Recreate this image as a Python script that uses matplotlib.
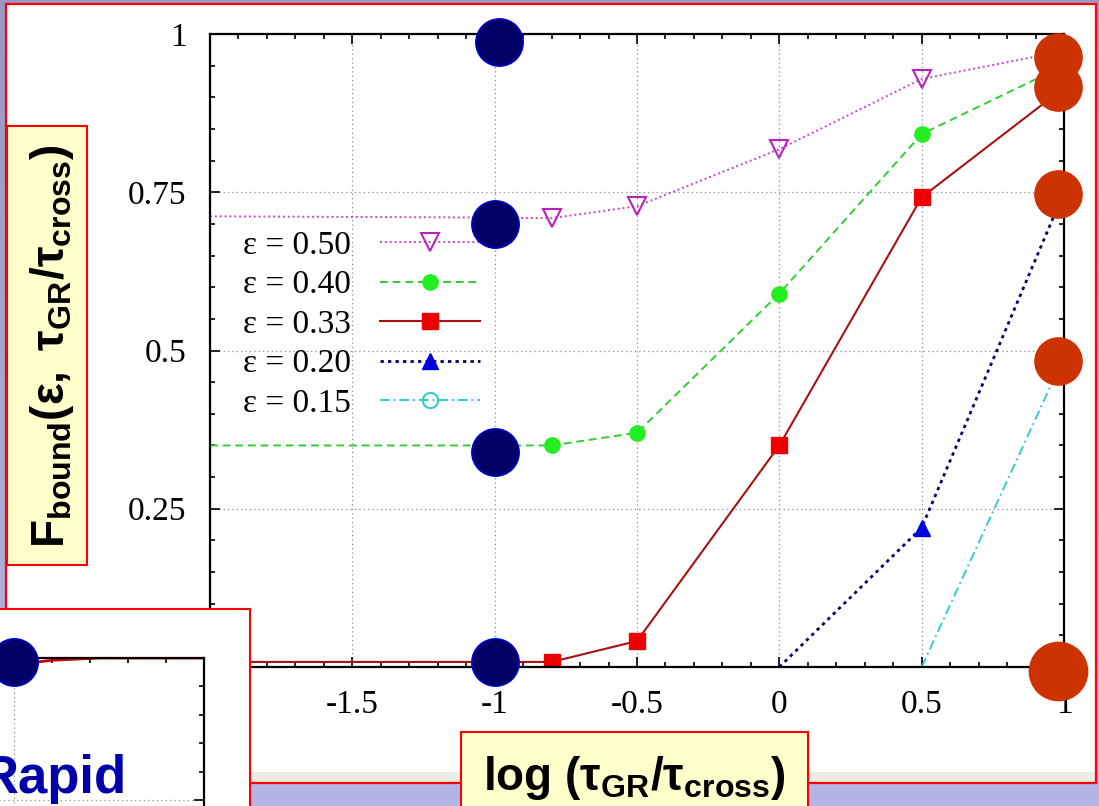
import numpy as np
import matplotlib
matplotlib.use("Agg")
import matplotlib.pyplot as plt
from matplotlib.patches import Rectangle
from matplotlib.ticker import MultipleLocator

# ---------------------------------------------------------------- data
log_ratio_50 = [-2.0, -1.0, -0.8, -0.5, 0.0, 0.5, 1.0]
f_bound_50 = [0.712, 0.710, 0.709, 0.728, 0.818, 0.929, 0.973]

log_ratio_40 = [-2.0, -1.0, -0.8, -0.5, 0.0, 0.5, 1.0]
f_bound_40 = [0.350, 0.350, 0.350, 0.370, 0.590, 0.842, 0.950]

log_ratio_33 = [-2.0, -1.0, -0.8, -0.5, 0.0, 0.5, 1.0]
f_bound_33 = [0.008, 0.008, 0.008, 0.041, 0.350, 0.742, 0.915]

log_ratio_20 = [0.0, 0.5, 1.0]
f_bound_20 = [0.0, 0.220, 0.750]

log_ratio_15 = [0.5, 1.0]
f_bound_15 = [0.0, 0.490]

series_labels = ["ε = 0.50", "ε = 0.40", "ε = 0.33", "ε = 0.20", "ε = 0.15"]

# highlighted points on the slow (x = -1) and fast (x = 1) ends
slow_x = [-0.985, -1.0, -1.0, -1.0]
slow_y = [0.987, 0.700, 0.340, 0.008]
fast_x = [0.979, 0.979, 0.979, 0.979, 0.979]
fast_y = [0.964, 0.916, 0.748, 0.484, -0.006]
fast_size = [34, 34, 34, 34, 42]

# small inset curve
inset_x = [-0.5, 0.0, 0.2, 0.45, 1.0]
inset_y = [0.975, 0.988, 0.996, 1.0, 1.0]
inset_dot_x = [0.0]
inset_dot_y = [0.993]

x_ticks = [-2, -1.5, -1, -0.5, 0, 0.5, 1]
x_tick_labels = ["-2", "-1.5", "-1", "-0.5", "0", "0.5", "1"]
y_ticks = [0.25, 0.5, 0.75, 1.0]
y_tick_labels = ["0.25", "0.5", "0.75", "1"]

# ---------------------------------------------------------------- figure
W, H = 1099, 806
plt.rcParams["axes.unicode_minus"] = False
plt.rcParams["mathtext.fontset"] = "custom"
plt.rcParams["mathtext.rm"] = "Liberation Sans"
plt.rcParams["mathtext.it"] = "Liberation Sans:italic"
plt.rcParams["mathtext.bf"] = "Liberation Sans:bold"

fig = plt.figure(figsize=(W / 100, H / 100), dpi=100)


def fx(px):
    return px / W


def fy(py):
    return 1 - py / H


def box(x0, y0, x1, y1):
    return [fx(x0), fy(y1), (x1 - x0) / W, (y1 - y0) / H]


# slide background gradient
bg = fig.add_axes([0, 0, 1, 1], zorder=-10)
top = np.array([0x98, 0x98, 0xc6]) / 255
bot = np.array([0xb6, 0xb6, 0xe6]) / 255
t = np.linspace(0, 1, 256)[:, None]
grad = (top[None, :] * (1 - t) + bot[None, :] * t)[:, None, :]
bg.imshow(grad, extent=[0, 1, 0, 1], aspect="auto")
bg.set_axis_off()

# white panel with red frame and soft bottom shade
fig.add_artist(Rectangle((fx(6), fy(783)), 1090 / W, 779 / H,
                         facecolor="white", edgecolor="none", zorder=-5))
fig.add_artist(Rectangle((fx(7), fy(782)), 1088 / W, 10 / H,
                         facecolor="#eeebe6", edgecolor="none", zorder=-4))
fig.add_artist(Rectangle((fx(6), fy(783)), 1090 / W, 779 / H,
                         facecolor="none", edgecolor="#ff0000", lw=1.6, zorder=-3))

# ---------------------------------------------------------------- main axes
ax = fig.add_axes(box(210, 34, 1064, 667), zorder=0)
ax.set_facecolor("none")
ax.set_xlim(-2, 1)
ax.set_ylim(0, 1)

ax.plot(log_ratio_50, f_bound_50, color="#cc44cc", ls=(0, (1, 1.5)), lw=1.4,
        marker="v", ms=13, mfc="none", mec="#bb22bb", mew=1.5,
        markevery=list(range(1, len(log_ratio_50))), label=series_labels[0])
ax.plot(log_ratio_40, f_bound_40, color="#33cc33", ls=(0, (4, 2.5)), lw=1.4,
        marker="o", ms=11, mfc="#22ee22", mec="#22ee22",
        markevery=list(range(1, len(log_ratio_40))), label=series_labels[1])
ax.plot(log_ratio_33, f_bound_33, color="#aa1111", ls="-", lw=1.5,
        marker="s", ms=11, mfc="#ee0000", mec="#ee0000",
        markevery=list(range(1, len(log_ratio_33))), label=series_labels[2])
ax.plot(log_ratio_20, f_bound_20, color="#000066", ls=(0, (1.2, 1.5)), lw=2.0,
        marker="^", ms=11, mfc="#0000dd", mec="#0000dd",
        markevery=[1, 2], label=series_labels[3])
ax.plot(log_ratio_15, f_bound_15, color="#33cccc", ls=(0, (5, 2, 1, 2)), lw=1.4,
        marker="o", ms=11, mfc="none", mec="#33cccc", mew=1.5,
        markevery=[1], label=series_labels[4])

ax.plot(slow_x, slow_y, ls="none", marker="o", ms=34, mfc="#000066",
        mec="#0000cc", mew=1.2, clip_on=False, zorder=6)
for xv, yv, s in zip(fast_x, fast_y, fast_size):
    ax.plot([xv], [yv], ls="none", marker="o", ms=s, mfc="#cc3300",
            mec="#cc3300", clip_on=False, zorder=6)

ax.set_xticks(x_ticks)
ax.set_xticklabels(x_tick_labels)
ax.set_yticks(y_ticks)
ax.set_yticklabels(y_tick_labels)
ax.xaxis.set_minor_locator(MultipleLocator(0.1))
ax.yaxis.set_minor_locator(MultipleLocator(0.05))
ax.tick_params(which="both", direction="in", top=True, right=True,
               labelsize=24, width=1.2, colors="black")
ax.tick_params(which="major", length=7)
ax.tick_params(which="minor", length=3.5)
ax.tick_params(axis="x", pad=16)
ax.tick_params(axis="y", pad=17)
for lab in ax.get_xticklabels() + ax.get_yticklabels():
    lab.set_fontfamily("Liberation Serif")
for sp in ax.spines.values():
    sp.set_linewidth(1.6)
ax.grid(True, which="major", color="#8a8a8a", ls=(0, (1, 2.5)), lw=0.9)

leg = ax.legend(loc="upper left", bbox_to_anchor=(0.039, 0.69),
                frameon=False, markerfirst=False, handlelength=3.0,
                handletextpad=0.85, labelspacing=0.27, borderpad=0,
                borderaxespad=0, prop={"family": "Liberation Serif", "size": 24})

# ---------------------------------------------------------------- axis titles
fig.add_artist(Rectangle((fx(7), fy(565)), 80 / W, 439 / H,
                         facecolor="#ffffcc", edgecolor="#ff0000", lw=1.5, zorder=5))
fig.text(fx(52), fy(346), r"$\mathbf{F_{bound}(ε,\ τ_{GR}/τ_{cross})}$",
         rotation=90, ha="center", va="center", fontsize=33, color="black",
         zorder=6)

fig.add_artist(Rectangle((fx(461), fy(812)), 347 / W, 80 / H,
                         facecolor="#ffffcc", edgecolor="#ff0000", lw=1.5, zorder=5))
fig.text(fx(634), fy(790), r"$\mathbf{log\ (τ_{GR}/τ_{cross})}$",
         ha="center", va="baseline", fontsize=33, color="black", zorder=6)

# ---------------------------------------------------------------- inset
fig.add_artist(Rectangle((fx(-5), fy(815)), 255 / W, 206 / H,
                         facecolor="white", edgecolor="#ff0000", lw=1.5, zorder=7))
ins = fig.add_axes(box(-81, 658, 204, 942), zorder=8)
ins.set_facecolor("none")
ins.set_xlim(-0.5, 1.0)
ins.set_ylim(0.5, 1.0)
ins.plot(inset_x, inset_y, color="#cc0000", lw=2.0)
ins.plot(inset_dot_x, inset_dot_y, ls="none", marker="o", ms=34,
         mfc="#000066", mec="#0000cc", mew=1.2, clip_on=False, zorder=6)
ins.set_xticks([0.0, 1.0])
ins.set_yticks([0.75, 1.0])
ins.xaxis.set_minor_locator(MultipleLocator(0.2))
ins.yaxis.set_minor_locator(MultipleLocator(0.05))
ins.tick_params(which="both", direction="in", top=True, right=True,
                bottom=False, left=False, labelbottom=False, labelleft=False,
                width=1.2)
ins.tick_params(which="major", length=7)
ins.tick_params(which="minor", length=3.5)
ins.spines["left"].set_visible(False)
ins.spines["bottom"].set_visible(False)
ins.spines["top"].set_linewidth(1.6)
ins.spines["right"].set_linewidth(1.6)
ins.grid(True, which="major", color="#8a8a8a", ls=(0, (1, 2.5)), lw=0.9)

fig.text(fx(-19), fy(793), "Rapid", fontfamily="Liberation Sans",
         fontweight="bold", fontsize=38, color="#0000aa", va="baseline",
         zorder=9)

fig.savefig("out.png", dpi=100)
